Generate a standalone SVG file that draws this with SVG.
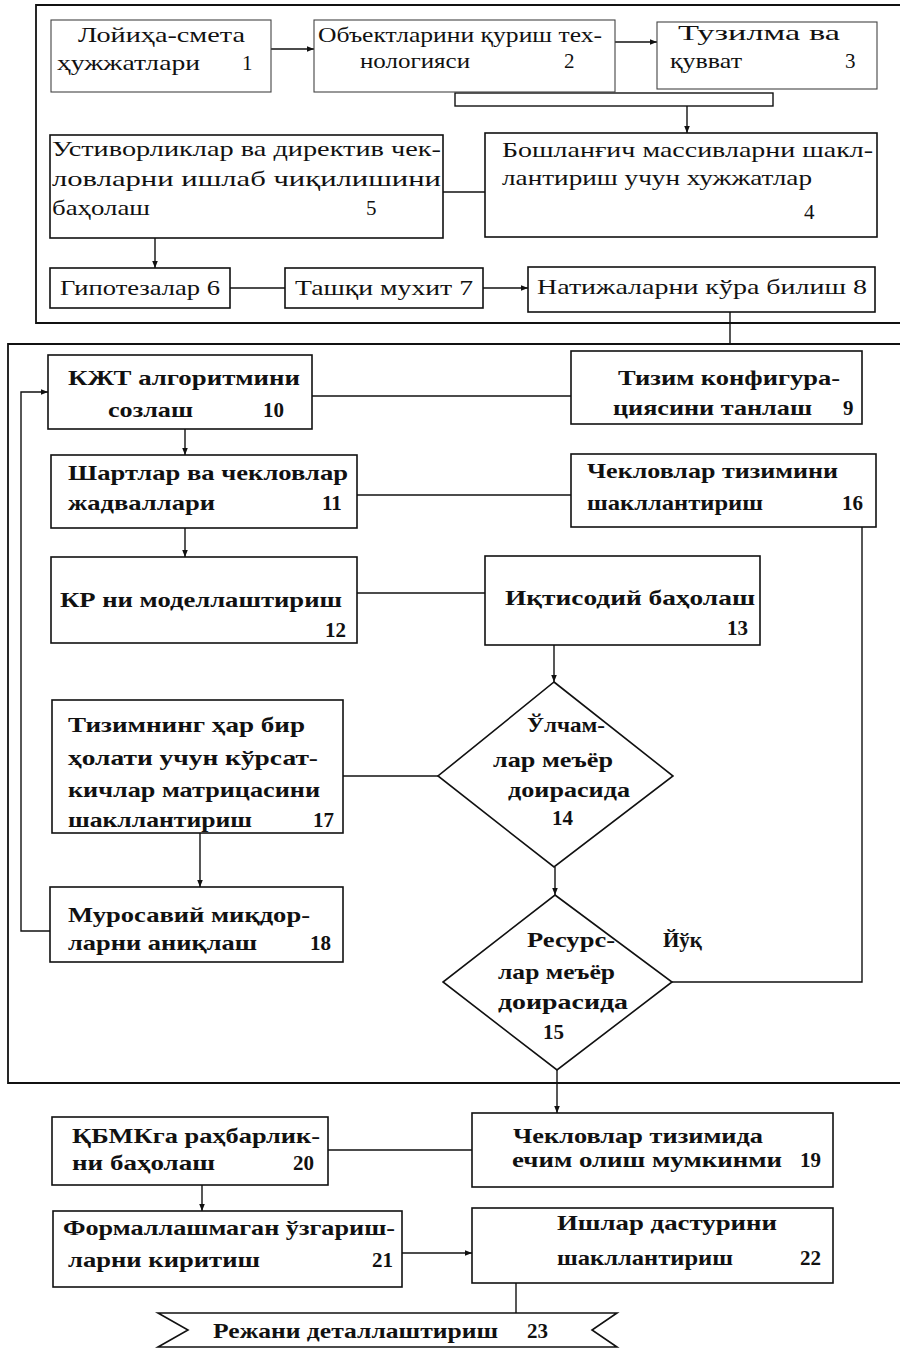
<svg xmlns="http://www.w3.org/2000/svg" width="900" height="1351" viewBox="0 0 900 1351">
<style>
text{font-family:"Liberation Serif","DejaVu Serif",serif;font-size:21px;fill:#111}
.b text{font-weight:bold}
.box{fill:none;stroke:#111;stroke-width:1.6}
.lt{fill:none;stroke:#444;stroke-width:1.1}
.frame{fill:none;stroke:#111;stroke-width:1.8}
.c{fill:none;stroke:#111;stroke-width:1.4}
</style>
<defs>
<marker id="ah" viewBox="0 0 10 10" refX="10" refY="5" markerWidth="7" markerHeight="7" markerUnits="userSpaceOnUse" orient="auto">
<path d="M0,1 L10,5 L0,9 Z" fill="#111"/>
</marker>
</defs>
<rect width="900" height="1351" fill="#fff"/>
<g id="frames">
<path class="frame" d="M900,5 H36 V323 H900"/>
<path class="frame" d="M900,344 H8 V1083 H900"/>
</g>
<g id="connectors">
<path class="c" d="M271,49 H314" marker-end="url(#ah)"/>
<path class="c" d="M615,42 H657" marker-end="url(#ah)"/>
<rect class="c" x="455" y="93" width="318" height="13"/>
<path class="c" d="M687,106 V133" marker-end="url(#ah)"/>
<path class="c" d="M485,192 H443"/>
<path class="c" d="M155,238 V268" marker-end="url(#ah)"/>
<path class="c" d="M230,288 H285"/>
<path class="c" d="M483,288 H528" marker-end="url(#ah)"/>
<path class="c" d="M730,312 V345"/>
<path class="c" d="M312,396 H571"/>
<path class="c" d="M185,429 V455" marker-end="url(#ah)"/>
<path class="c" d="M357,495 H571"/>
<path class="c" d="M185,528 V557" marker-end="url(#ah)"/>
<path class="c" d="M357,593 H485"/>
<path class="c" d="M554,645 V682" marker-end="url(#ah)"/>
<path class="c" d="M438,776 H343"/>
<path class="c" d="M555,867 V895" marker-end="url(#ah)"/>
<path class="c" d="M672,982 H862 V527"/>
<path class="c" d="M200,833 V887" marker-end="url(#ah)"/>
<path class="c" d="M50,931 H21 V392 H48" marker-end="url(#ah)"/>
<path class="c" d="M557,1070 V1113" marker-end="url(#ah)"/>
<path class="c" d="M328,1150 H472"/>
<path class="c" d="M202,1185 V1211" marker-end="url(#ah)"/>
<path class="c" d="M402,1253 H472" marker-end="url(#ah)"/>
<path class="c" d="M516,1283 V1313"/>
</g>
<g id="n1"><rect class="lt" x="51" y="20" width="220" height="72"/>
<text x="78" y="42" textLength="167" lengthAdjust="spacingAndGlyphs">Лойиҳа-смета</text>
<text x="57" y="70" textLength="143" lengthAdjust="spacingAndGlyphs">ҳужжатлари</text><text x="242" y="70">1</text></g>
<g id="n2"><rect class="lt" x="314" y="20" width="301" height="72"/>
<text x="318" y="42" textLength="284" lengthAdjust="spacingAndGlyphs">Объектларини қуриш тех-</text>
<text x="360" y="68" textLength="110" lengthAdjust="spacingAndGlyphs">нологияси</text><text x="564" y="68">2</text></g>
<g id="n3"><rect class="lt" x="657" y="22" width="220" height="67"/>
<text x="678" y="40" textLength="162" lengthAdjust="spacingAndGlyphs">Тузилма ва</text>
<text x="670" y="68" textLength="72" lengthAdjust="spacingAndGlyphs">қувват</text><text x="845" y="68">3</text></g>
<g id="n4"><rect class="box" x="485" y="133" width="392" height="104"/>
<text x="502" y="157" textLength="371" lengthAdjust="spacingAndGlyphs">Бошланғич массивларни шакл-</text>
<text x="502" y="185" textLength="310" lengthAdjust="spacingAndGlyphs">лантириш учун хужжатлар</text>
<text x="804" y="219">4</text></g>
<g id="n5"><rect class="box" x="50" y="135" width="393" height="103"/>
<text x="52" y="156" textLength="389" lengthAdjust="spacingAndGlyphs">Устиворликлар ва директив чек-</text>
<text x="52" y="186" textLength="389" lengthAdjust="spacingAndGlyphs">ловларни   ишлаб   чиқилишини</text>
<text x="52" y="215" textLength="98" lengthAdjust="spacingAndGlyphs">баҳолаш</text><text x="366" y="215">5</text></g>
<g id="n6"><rect class="box" x="50" y="268" width="180" height="40"/>
<text x="60" y="295" textLength="160" lengthAdjust="spacingAndGlyphs">Гипотезалар 6</text></g>
<g id="n7"><rect class="box" x="285" y="268" width="198" height="40"/>
<text x="295" y="295" textLength="178" lengthAdjust="spacingAndGlyphs">Ташқи мухит 7</text></g>
<g id="n8"><rect class="box" x="528" y="267" width="347" height="45"/>
<text x="537" y="294" textLength="330" lengthAdjust="spacingAndGlyphs">Натижаларни кўра билиш 8</text></g>
<g class="b">
<g id="n10"><rect class="box" x="48" y="355" width="264" height="74"/>
<text x="68" y="385" textLength="232" lengthAdjust="spacingAndGlyphs">КЖТ алгоритмини</text>
<text x="108" y="417" textLength="85" lengthAdjust="spacingAndGlyphs">созлаш</text><text x="263" y="417">10</text></g>
<g id="n9"><rect class="box" x="571" y="351" width="291" height="73"/>
<text x="618" y="385" textLength="222" lengthAdjust="spacingAndGlyphs">Тизим конфигура-</text>
<text x="613" y="415" textLength="199" lengthAdjust="spacingAndGlyphs">циясини танлаш</text><text x="843" y="415">9</text></g>
<g id="n11"><rect class="box" x="51" y="455" width="306" height="73"/>
<text x="68" y="480" textLength="280" lengthAdjust="spacingAndGlyphs">Шартлар ва чекловлар</text>
<text x="68" y="510" textLength="147" lengthAdjust="spacingAndGlyphs">жадваллари</text><text x="322" y="510">11</text></g>
<g id="n16"><rect class="box" x="571" y="454" width="305" height="73"/>
<text x="587" y="478" textLength="251" lengthAdjust="spacingAndGlyphs">Чекловлар тизимини</text>
<text x="587" y="510" textLength="176" lengthAdjust="spacingAndGlyphs">шакллантириш</text><text x="842" y="510">16</text></g>
<g id="n12"><rect class="box" x="51" y="557" width="306" height="86"/>
<text x="60" y="607" textLength="282" lengthAdjust="spacingAndGlyphs">КР ни моделлаштириш</text>
<text x="325" y="637">12</text></g>
<g id="n13"><rect class="box" x="485" y="556" width="275" height="89"/>
<text x="505" y="605" textLength="250" lengthAdjust="spacingAndGlyphs">Иқтисодий  баҳолаш</text>
<text x="727" y="635">13</text></g>
<g id="n14"><polygon class="box" points="554,682 673,776 554,867 438,776"/>
<text x="527" y="732" textLength="78" lengthAdjust="spacingAndGlyphs">Ўлчам-</text>
<text x="493" y="767" textLength="120" lengthAdjust="spacingAndGlyphs">лар меъёр</text>
<text x="508" y="797" textLength="122" lengthAdjust="spacingAndGlyphs">доирасида</text>
<text x="552" y="825">14</text></g>
<g id="n15"><polygon class="box" points="555,895 672,982 557,1070 443,982"/>
<text x="527" y="947" textLength="88" lengthAdjust="spacingAndGlyphs">Ресурс-</text>
<text x="498" y="979" textLength="117" lengthAdjust="spacingAndGlyphs">лар меъёр</text>
<text x="498" y="1009" textLength="130" lengthAdjust="spacingAndGlyphs">доирасида</text>
<text x="543" y="1039">15</text>
<text x="663" y="947">Йўқ</text></g>
<g id="n17"><rect class="box" x="52" y="700" width="291" height="133"/>
<text x="68" y="732" textLength="237" lengthAdjust="spacingAndGlyphs">Тизимнинг ҳар бир</text>
<text x="68" y="765" textLength="250" lengthAdjust="spacingAndGlyphs">ҳолати учун кўрсат-</text>
<text x="68" y="797" textLength="252" lengthAdjust="spacingAndGlyphs">кичлар матрицасини</text>
<text x="68" y="827" textLength="184" lengthAdjust="spacingAndGlyphs">шакллантириш</text><text x="313" y="827">17</text></g>
<g id="n18"><rect class="box" x="50" y="887" width="293" height="75"/>
<text x="68" y="922" textLength="242" lengthAdjust="spacingAndGlyphs">Муросавий миқдор-</text>
<text x="68" y="950" textLength="189" lengthAdjust="spacingAndGlyphs">ларни аниқлаш</text><text x="310" y="950">18</text></g>
<g id="n19"><rect class="box" x="472" y="1113" width="361" height="74"/>
<text x="513" y="1143" textLength="250" lengthAdjust="spacingAndGlyphs">Чекловлар тизимида</text>
<text x="512" y="1167" textLength="270" lengthAdjust="spacingAndGlyphs">ечим олиш мумкинми</text><text x="800" y="1167">19</text></g>
<g id="n20"><rect class="box" x="52" y="1117" width="276" height="68"/>
<text x="72" y="1143" textLength="248" lengthAdjust="spacingAndGlyphs">ҚБМКга раҳбарлик-</text>
<text x="72" y="1170" textLength="143" lengthAdjust="spacingAndGlyphs">ни баҳолаш</text><text x="293" y="1170">20</text></g>
<g id="n21"><rect class="box" x="53" y="1211" width="349" height="76"/>
<text x="63" y="1235" textLength="332" lengthAdjust="spacingAndGlyphs">Формаллашмаган ўзгариш-</text>
<text x="68" y="1267" textLength="192" lengthAdjust="spacingAndGlyphs">ларни киритиш</text><text x="372" y="1267">21</text></g>
<g id="n22"><rect class="box" x="472" y="1208" width="361" height="75"/>
<text x="557" y="1230" textLength="220" lengthAdjust="spacingAndGlyphs">Ишлар  дастурини</text>
<text x="557" y="1265" textLength="176" lengthAdjust="spacingAndGlyphs">шакллантириш</text><text x="800" y="1265">22</text></g>
<g id="n23"><path class="box" d="M158,1313 H617 L592,1330 L617,1347 H158 L188,1330 Z"/>
<text x="213" y="1338" textLength="285" lengthAdjust="spacingAndGlyphs">Режани деталлаштириш</text><text x="527" y="1338">23</text></g>
</g>
</svg>
